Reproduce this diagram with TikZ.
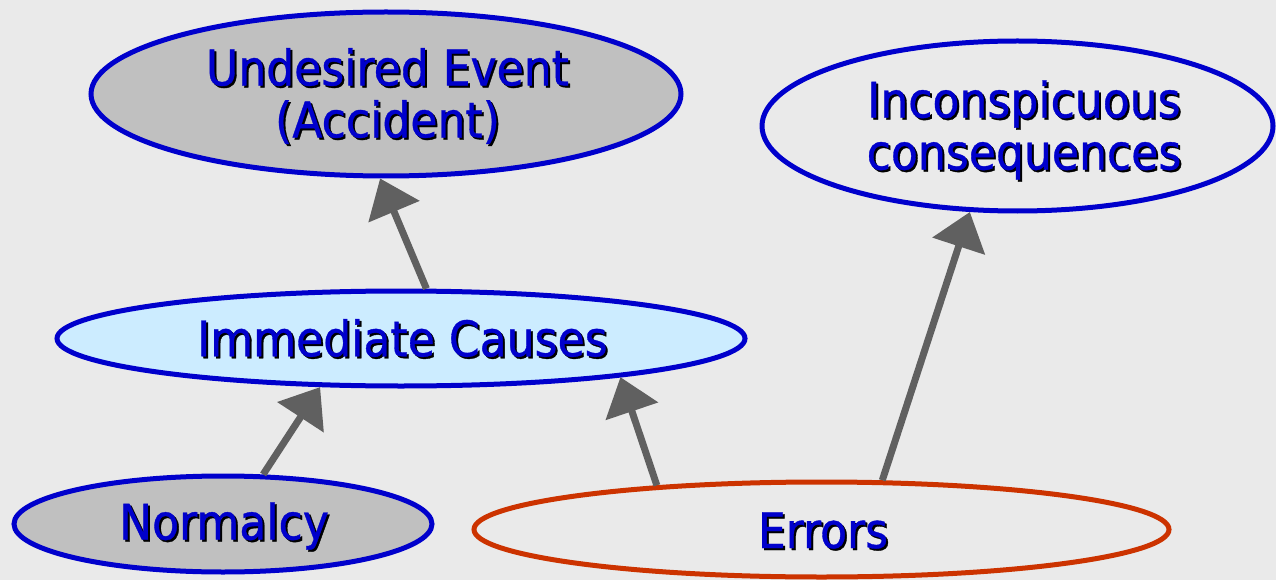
\documentclass[tikz,border=0pt]{standalone}
\usepackage{fontspec}
\setmainfont[FakeBold=0.7]{DejaVu Sans Condensed}
\usetikzlibrary{shapes.geometric,arrows.meta}
\definecolor{bg}{HTML}{EAEAEA}
\definecolor{grayfill}{HTML}{C0C0C0}
\definecolor{bluefill}{HTML}{CCECFF}
\definecolor{edgeblue}{HTML}{0000CC}
\definecolor{edgered}{HTML}{CC3300}
\definecolor{txtblue}{HTML}{0000CC}
\definecolor{arrgray}{HTML}{606060}
\newcommand\shtx[1]{\leavevmode\rlap{\kern2pt\raisebox{-2pt}{\color{black}#1}}{\color{txtblue}#1}}
\tikzset{
  oval/.style={ellipse, draw=edgeblue, line width=5pt, inner sep=0pt},
  lbl/.style={inner sep=0pt, align=center, font=\fontsize{49}{52}\selectfont},
  arr/.style={draw=arrgray, line width=7pt, -{Triangle[length=36pt,width=54pt]}, arrgray},
}
\begin{document}
\begin{tikzpicture}[x=1pt,y=-1pt]
\useasboundingbox (0,0) rectangle (1276,580);
\fill[bg] (0,0) rectangle (1276,580);
\node[oval, fill=grayfill, minimum width=590pt, minimum height=164pt] (und) at (386,94) {};
\node[oval, fill=bg, minimum width=511pt, minimum height=170pt] (inc) at (1017.5,126) {};
\node[oval, fill=bluefill, minimum width=688pt, minimum height=95pt] (imm) at (401,338.5) {};
\node[oval, fill=grayfill, minimum width=418pt, minimum height=96pt] (nor) at (223,524) {};
\node[oval, draw=edgered, fill=bg, minimum width=695pt, minimum height=95pt] (err) at (821.5,529.5) {};
\node[lbl] (undt) at (387.5,97) {\shtx{Undesired Event}\\\shtx{(Accident)}};
\node[lbl] (inct) at (1024,131) {\shtx{Inconspicuous}\\\shtx{consequences}};
\node[lbl] (immt) at (402.5,339) {\shtx{Immediate Causes}};
\node[lbl] (nort) at (224,527) {\shtx{Normalcy}};
\node[lbl] (errt) at (823,531.5) {\shtx{Errors}};
\draw[arr] (imm.63.7) -- (und.266.7);
\draw[arr] (nor.51.7) -- (imm.211.4);
\draw[arr] (err.165.1) -- (imm.350);
\draw[arr] (err.39.7) -- (inc.241.3);
\end{tikzpicture}
\end{document}
